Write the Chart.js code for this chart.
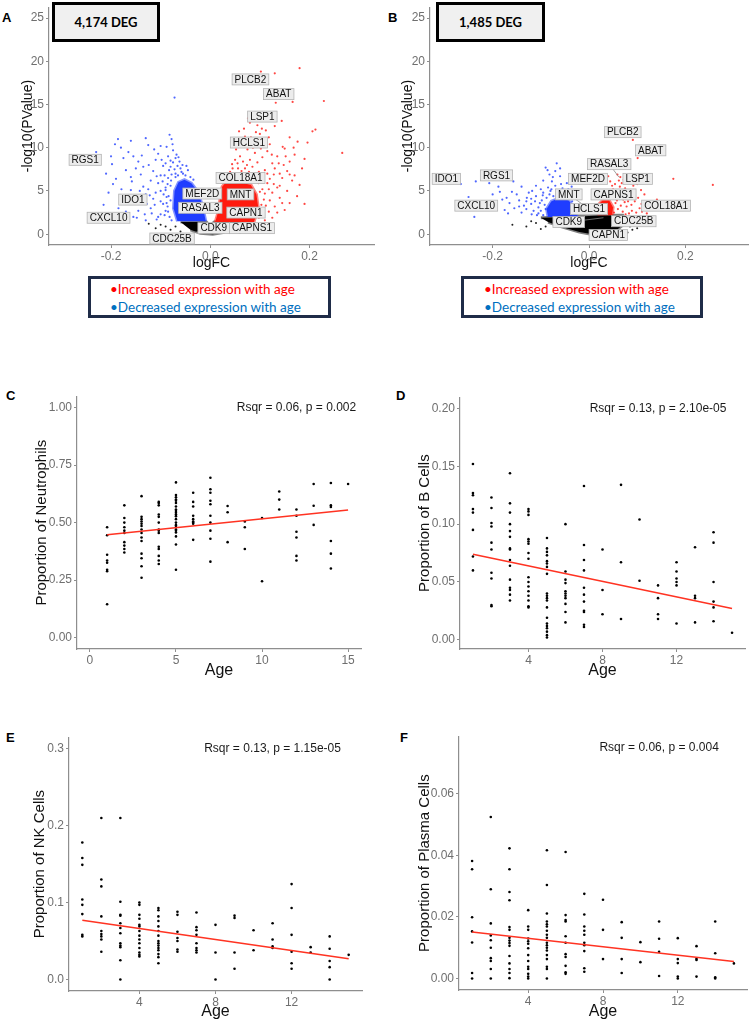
<!DOCTYPE html>
<html>
<head>
<meta charset="utf-8">
<script src="https://cdn.jsdelivr.net/npm/chart.js@4.4.0/dist/chart.umd.min.js"></script>
<style>
  html, body { margin: 0; padding: 0; background: #fff; overflow: hidden; }
  #page { position: relative; width: 750px; height: 1022px; overflow: hidden; font-family: "Liberation Sans", Arial, sans-serif; }
  #page canvas { position: absolute; }
  .tag { position: absolute; font: bold 13px/13px "Liberation Sans", Arial, sans-serif; color: #000; }
  .deg { position: absolute; box-sizing: border-box; border: 3px solid #000; background: #f0f0f0;
         font: bold 13px Lato, "Liberation Sans", sans-serif; color: #000;
         display: flex; align-items: center; justify-content: center; }
  .key { position: absolute; box-sizing: border-box; border: 3px solid #1f2c48; background: #fff;
         font: 13.5px/18px Lato, "Liberation Sans", sans-serif; padding-top: 1px; white-space: nowrap; }
  .key .up { color: #ff0000; }
  .key .down { color: #0070c0; }
</style>
</head>
<body>
<div id="page">
  <div class="tag" style="left:2px;top:11px">A</div>
  <div class="tag" style="left:388px;top:11px">B</div>
  <div class="tag" style="left:6px;top:389px">C</div>
  <div class="tag" style="left:396px;top:389px">D</div>
  <div class="tag" style="left:6px;top:731px">E</div>
  <div class="tag" style="left:400px;top:731px">F</div>

  <div class="deg" style="left:52px;top:2px;width:108px;height:40px">4,174 DEG</div>
  <div class="deg" style="left:436px;top:2px;width:109px;height:40px">1,485 DEG</div>

  <div class="key" style="left:88px;top:276px;width:243px;height:42px;padding-left:19px">
    <div class="up">&bull;Increased expression with age</div>
    <div class="down">&bull;Decreased expression with age</div>
  </div>
  <div class="key" style="left:461px;top:276px;width:242px;height:42px;padding-left:20px">
    <div class="up">&bull;Increased expression with age</div>
    <div class="down">&bull;Decreased expression with age</div>
  </div>
</div>

<script>
/* ---------- volcano A (logFC, -log10 p) ---------- */
var upA = [
  [0.102,18.8],[0.130,18.6],[0.180,19.2],[0.229,15.4],[0.166,15.3],[0.132,15.2],[0.144,13.1],[0.130,12.5],
  [0.076,13.4],[0.088,13.3],[0.080,12.9],[0.095,12.6],[0.104,12.2],[0.206,11.9],[0.212,12.1],[0.176,10.7],
  [0.146,10.1],[0.150,9.9],[0.190,8.7],[0.266,9.4],[0.180,5.7],[0.148,8.0],[0.128,6.9],[0.160,11.2],
  [0.050,7.0],[0.055,8.2],[0.060,9.0],[0.065,10.5],[0.070,11.3],[0.075,9.8],[0.080,8.6],[0.085,7.8],
  [0.090,9.4],[0.095,10.8],[0.100,11.6],[0.105,8.9],[0.110,7.4],[0.115,9.6],[0.120,10.4],[0.125,8.2],
  [0.130,7.6],[0.135,9.0],[0.140,7.0],[0.145,6.5],[0.155,7.3],[0.160,8.4],[0.165,6.2],[0.170,9.2],
  [0.120,6.4],[0.100,6.6],[0.090,6.9],[0.070,7.6],[0.062,6.8],[0.058,11.9],[0.068,12.2],[0.082,11.2],
  [0.092,11.8],[0.098,7.2],[0.108,10.2],[0.112,12.0],[0.118,11.2],[0.124,9.2],[0.045,7.6],[0.052,9.8],
  [0.078,10.6],[0.086,10.0],[0.095,8.3],[0.102,9.9],[0.035,6.8],[0.040,7.2],[0.044,8.1],[0.050,8.6],
  [0.056,7.6],[0.066,8.4],[0.074,8.0],[0.084,7.0],[0.093,6.3],[0.063,7.3],[0.072,6.5],[0.078,7.2],
  [0.058,6.4],[0.048,6.7],[0.042,6.3],[0.105,5.2],[0.110,4.7],[0.115,5.9],[0.120,3.9],[0.125,4.8],
  [0.130,3.2],[0.135,5.4],[0.140,4.2],[0.150,2.8],[0.155,5.0],[0.160,3.6],[0.170,6.8],[0.175,4.4],
  [0.185,7.6],[0.190,3.5],[0.108,2.2],[0.112,3.3],[0.118,2.6],[0.125,1.9],[0.135,2.5],[0.145,3.6],
  [0.105,6.3],[0.115,7.0],[0.140,5.6],[0.160,6.9],[0.108,4.0],[0.103,3.4],[0.110,1.6],[0.118,5.2],
  [0.128,5.8],[0.138,8.2],[0.152,9.0],[0.168,10.0],[0.196,10.6],[0.098,1.9],[0.102,2.6],[0.100,4.9],
  [0.097,5.9],[0.038,6.1],[0.066,6.2],[0.088,6.1],[0.032,6.3]
];
var downA = [
  [-0.072,15.8],[-0.186,11.0],[-0.192,10.4],[-0.230,9.5],[-0.198,8.1],[-0.196,5.8],[-0.130,11.1],[-0.082,11.5],
  [-0.078,11.0],[-0.138,9.1],[-0.148,1.9],[-0.165,9.5],[-0.179,5.2],[-0.158,6.1],[-0.124,8.0],[-0.145,2.7],
  [-0.155,2.0],[-0.128,3.5],[-0.105,2.0],[-0.210,7.0],[-0.170,7.4],[-0.160,6.6],[-0.150,7.6],[-0.140,6.9],
  [-0.135,5.5],[-0.130,4.6],[-0.120,6.2],[-0.115,7.3],[-0.110,8.6],[-0.105,9.3],[-0.100,10.2],[-0.095,7.9],
  [-0.092,6.8],[-0.090,5.4],[-0.088,4.3],[-0.086,3.2],[-0.100,3.8],[-0.110,4.8],[-0.120,3.0],[-0.118,2.4],
  [-0.132,2.3],[-0.140,3.9],[-0.150,4.5],[-0.165,3.6],[-0.175,4.1],[-0.185,3.0],[-0.170,2.6],[-0.160,5.1],
  [-0.190,6.4],[-0.205,4.8],[-0.215,3.4],[-0.085,9.0],[-0.080,8.5],[-0.075,9.7],[-0.070,8.8],[-0.066,7.9],
  [-0.090,8.2],[-0.083,7.4],[-0.078,6.9],[-0.072,7.5],[-0.062,8.4],[-0.058,7.2],[-0.096,6.1],[-0.100,5.0],
  [-0.094,4.6],[-0.105,5.9],[-0.108,6.7],[-0.098,8.6],[-0.113,9.8],[-0.088,10.1],[-0.076,10.4],[-0.068,9.2],
  [-0.125,10.3],[-0.145,8.4],[-0.155,9.0],[-0.175,8.8],[-0.180,10.0],[-0.200,9.0],[-0.160,10.8],[-0.095,3.5],
  [-0.090,2.7],[-0.100,2.3],[-0.112,3.4],[-0.125,5.2],[-0.135,7.8],[-0.142,5.0],[-0.108,1.7],[-0.130,1.6],
  [-0.165,1.8],[-0.085,6.5],[-0.080,7.8],[-0.075,8.3],[-0.070,7.0],[-0.065,6.8],[-0.060,7.6],[-0.055,7.0],
  [-0.050,6.8],[-0.045,7.4],[-0.100,6.8],[-0.082,2.0],[-0.085,2.6],[-0.088,3.6],[-0.084,4.4],[-0.090,5.1],
  [-0.092,2.2],[-0.080,5.6],[-0.086,5.8],[-0.064,8.9],[-0.056,8.0],[-0.048,7.9],[-0.115,4.1],[-0.122,4.5],
  [-0.040,6.6],[-0.034,6.3],[-0.078,1.6],[-0.080,3.9],[-0.079,6.2],[-0.070,6.6]
];
var nsA = [
  [-0.124,1.2],[-0.090,0.9],[-0.100,1.1],[-0.080,0.5],[-0.070,0.9],[0.075,0.9],
  [0.085,1.1],[0.065,0.5],[-0.060,0.3],[0.060,0.2],[0.090,0.6],[-0.110,0.7]
];
// outlines of the solid, over-plotted masses
var upCoreA   = [[0.010,1.4],[0.016,2.6],[0.020,4.2],[0.024,5.5],[0.030,5.9],[0.060,6.0],[0.082,5.7],[0.093,4.6],[0.097,3.0],[0.088,1.4]];
var downCoreA = [[-0.066,1.5],[-0.074,3.0],[-0.072,5.0],[-0.064,6.0],[-0.052,6.3],[-0.038,5.9],[-0.026,5.0],[-0.016,3.4],[-0.009,1.5]];
var nsCoreA   = [[-0.060,1.4],[-0.008,1.4],[0.0,1.0],[0.008,1.4],[0.058,1.4],[0.045,0.7],[0.025,0.2],[0.005,0.0],[-0.020,0.1],[-0.040,0.5]];
// [gene, label x, label y, (point x, point y)]
var genesA = [
  ['PLCB2',0.081,17.9],['ABAT',0.138,16.2],['LSP1',0.105,13.6],['HCLS1',0.078,10.6],['RGS1',-0.252,8.6],
  ['COL18A1',0.061,6.5],['MEF2D',-0.016,4.7],['MNT',0.061,4.6],['IDO1',-0.156,4.0],['RASAL3',-0.020,3.05],
  ['CAPN1',0.072,2.5],['CXCL10',-0.205,1.9],['CDK9',0.007,0.7],['CAPNS1',0.084,0.7],['CDC25B',-0.077,-0.5,-0.020,0.35]
];

/* ---------- volcano B ---------- */
var upB = [
  [0.091,10.9],[0.101,8.8],[0.175,6.4],[0.257,5.7],[0.141,4.0],[0.059,6.9],[0.065,6.6],[0.100,5.8],
  [0.040,6.7],[0.054,5.8],[0.068,5.9],[0.082,5.0],[0.102,4.2],[0.109,3.5],[0.089,2.7],[0.130,3.7],
  [0.075,5.3],[0.085,4.4],[0.095,3.8],[0.078,3.2],[0.070,2.6],[0.060,5.0],[0.050,5.2],[0.045,4.8],
  [0.110,2.6],[0.120,3.1],[0.115,4.6],[0.092,5.6],[0.105,3.0],[0.083,2.4],[0.098,2.5],[0.071,4.0],
  [0.063,4.6],[0.057,4.2],[0.088,3.4],[0.079,4.7],[0.120,2.4],[0.135,2.8],[0.044,6.1],[0.048,5.6],
  [0.062,6.2],[0.072,6.3],[0.083,6.0],[0.064,5.5],[0.053,4.9],[0.093,4.9],[0.108,5.1],[0.125,3.4],
  [0.150,3.3],[0.055,3.6],[0.060,2.9],[0.066,3.3],[0.052,2.5],[0.074,3.7],[0.068,4.3],[0.058,3.9],
  [0.076,2.3],[0.081,3.8],[0.049,4.2],[0.038,4.3],[0.034,4.6]
];
var downB = [
  [-0.266,5.8],[-0.235,6.1],[-0.250,4.3],[-0.238,2.0],[-0.207,5.9],[-0.188,5.5],[-0.171,4.2],[-0.157,6.1],
  [-0.140,5.5],[-0.150,4.6],[-0.140,2.5],[-0.119,2.3],[-0.129,4.2],[-0.112,3.8],[-0.095,4.8],[-0.090,7.7],
  [-0.086,7.4],[-0.067,8.2],[-0.077,6.1],[-0.060,6.7],[-0.046,5.9],[-0.036,5.5],[-0.200,4.6],[-0.195,3.3],
  [-0.180,4.0],[-0.175,2.8],[-0.165,3.6],[-0.160,4.9],[-0.155,3.0],[-0.145,3.9],[-0.135,3.3],[-0.130,2.9],
  [-0.125,4.8],[-0.120,3.5],[-0.115,2.7],[-0.110,4.4],[-0.105,3.1],[-0.100,5.2],[-0.105,2.4],[-0.085,5.4],
  [-0.080,5.0],[-0.070,5.6],[-0.065,5.1],[-0.055,5.3],[-0.050,5.0],[-0.040,4.9],[-0.075,6.6],[-0.070,7.3],
  [-0.082,6.9],[-0.060,7.6],[-0.095,6.2],[-0.110,5.6],[-0.120,4.1],[-0.098,3.9],[-0.108,2.2],[-0.090,2.9],
  [-0.185,4.9],[-0.168,2.4],[-0.145,3.2],[-0.130,3.8],[-0.118,5.0],[-0.095,2.2],[-0.092,3.4],[-0.088,4.2],
  [-0.082,4.6],[-0.074,4.4],[-0.066,4.7],[-0.052,4.5],[-0.045,4.3],[-0.035,3.8],[-0.030,3.2],[-0.026,2.6],
  [-0.100,2.7],[-0.102,3.6],[-0.096,4.5],[-0.078,5.2],[-0.058,5.8],[-0.043,5.2]
];
var nsB = [
  [-0.159,1.1],[-0.130,0.9],[-0.110,1.3],[-0.100,0.6],[-0.090,0.9],[0.085,0.9],
  [0.090,0.5],[0.095,1.1],[0.080,0.2],[-0.120,1.5],[0.100,0.7],[0.082,1.5]
];
var upCoreB   = [[0.018,2.2],[0.019,3.4],[0.028,3.9],[0.042,3.9],[0.050,3.1],[0.048,2.2]];
var downCoreB = [[-0.085,2.0],[-0.088,2.9],[-0.078,3.8],[-0.060,4.2],[-0.042,3.9],[-0.030,3.0],[-0.024,2.0]];
var nsCoreB   = [[-0.100,1.9],[-0.040,2.0],[0.020,2.15],[0.070,2.2],[0.078,1.4],[0.060,0.6],[0.030,0.05],[0.010,-0.05],[-0.020,0.25],[-0.060,0.9],[-0.085,1.4]];
var genesB = [
  ['PLCB2',0.070,11.8],['ABAT',0.128,9.7],['RASAL3',0.042,8.1,0.062,6.6],['IDO1',-0.296,6.4],['RGS1',-0.192,6.8],
  ['MEF2D',-0.002,6.4],['LSP1',0.101,6.4],['MNT',-0.042,4.6,0.008,2.6],['CAPNS1',0.051,4.6],['CXCL10',-0.234,3.3],
  ['HCLS1',0.000,2.9,0.030,2.3],['COL18A1',0.160,3.3,0.115,2.9],['CDK9',-0.042,1.4,0.030,1.9],
  ['CDC25B',0.093,1.5,0.050,1.6],['CAPN1',0.040,-0.1,0.035,0.6]
];

var volXTicks = [-0.2, 0, 0.2];
var volYTicks = [0, 5, 10, 15, 20, 25];

/* ---------- cell proportions by age (one list per age 1..15) ---------- */
var ageCats = [1,2,3,4,5,6,7,8,9,10,11,12,13,14,15];
var neutrophils = [
  [0.48,0.445,0.36,0.335,0.325,0.295,0.288,0.145],
  [0.575,0.52,0.50,0.48,0.465,0.455,0.415,0.40,0.385,0.37],
  [0.615,0.525,0.515,0.505,0.495,0.485,0.47,0.455,0.435,0.42,0.365,0.345,0.31,0.26],
  [0.59,0.585,0.575,0.535,0.525,0.50,0.47,0.465,0.455,0.395,0.385,0.355,0.335,0.32],
  [0.675,0.62,0.61,0.60,0.595,0.585,0.57,0.557,0.55,0.543,0.535,0.528,0.515,0.50,0.49,0.486,0.48,0.47,0.465,0.457,0.44,0.405,0.295],
  [0.63,0.59,0.57,0.53,0.515,0.505,0.50,0.495,0.425],
  [0.695,0.645,0.63,0.595,0.58,0.53,0.50,0.465,0.43,0.33],
  [0.572,0.545,0.415],
  [0.505,0.48,0.385],
  [0.52,0.245],
  [0.635,0.60,0.557],
  [0.557,0.53,0.46,0.435,0.355,0.335],
  [0.668,0.573,0.49],
  [0.672,0.575,0.568,0.42,0.365,0.30],
  [0.668]
];
var bCells = [
  [0.152,0.127,0.125,0.113,0.110,0.095,0.072,0.060],
  [0.123,0.114,0.101,0.098,0.084,0.078,0.058,0.053,0.030,0.029],
  [0.144,0.118,0.110,0.100,0.094,0.089,0.079,0.078,0.069,0.064,0.052,0.045,0.043,0.039,0.034],
  [0.113,0.111,0.108,0.087,0.085,0.083,0.075,0.070,0.054,0.050,0.046,0.042,0.038,0.034,0.029,0.028],
  [0.088,0.079,0.076,0.073,0.068,0.066,0.063,0.057,0.040,0.038,0.036,0.034,0.028,0.019,0.014,0.012,0.010,0.007,0.004,0.002],
  [0.100,0.059,0.052,0.049,0.042,0.040,0.038,0.036,0.031,0.024,0.015],
  [0.133,0.082,0.069,0.060,0.045,0.039,0.033,0.025,0.024,0.013,0.011],
  [0.078,0.043,0.022],
  [0.134,0.067,0.018],
  [0.104,0.051],
  [0.047,0.036,0.022,0.018],
  [0.067,0.059,0.053,0.050,0.047,0.014],
  [0.080,0.038,0.036,0.015],
  [0.093,0.084,0.050,0.033,0.028,0.016],
  [0.006]
];
var nkCells = [
  [0.178,0.158,0.149,0.104,0.097,0.085,0.058,0.056],
  [0.210,0.130,0.121,0.082,0.063,0.059,0.056,0.052,0.036],
  [0.210,0.101,0.084,0.083,0.073,0.067,0.060,0.047,0.044,0.042,0.025,0.0],
  [0.100,0.097,0.084,0.079,0.071,0.069,0.063,0.057,0.052,0.047,0.041,0.035,0.032,0.030],
  [0.093,0.090,0.082,0.076,0.069,0.063,0.057,0.050,0.047,0.044,0.041,0.038,0.033,0.029,0.021],
  [0.088,0.084,0.062,0.054,0.050,0.039,0.036],
  [0.087,0.068,0.064,0.058,0.047,0.041,0.038,0.035],
  [0.071,0.035,0.0],
  [0.083,0.080,0.035,0.014],
  [0.064,0.038],
  [0.073,0.052,0.043,0.041],
  [0.124,0.093,0.058,0.036,0.021,0.014],
  [0.042,0.035],
  [0.056,0.040,0.024,0.016,0.0],
  [0.032]
];
var plasmaCells = [
  [0.0382,0.0355,0.0199,0.0153,0.0117,0.0018,0.0],
  [0.0525,0.0290,0.0179,0.0140,0.0124,0.0100,0.0066,0.0057,0.0031,0.0],
  [0.0423,0.0355,0.0281,0.0254,0.0167,0.0158,0.0132,0.0123,0.0115,0.0106,0.0073,0.0049,0.0031,0.0018,0.0001],
  [0.0222,0.0169,0.0158,0.0130,0.0121,0.0113,0.0098,0.0076,0.0057,0.0038,0.0031,0.0015,0.0006,0.0],
  [0.0417,0.0304,0.0211,0.0185,0.0176,0.0169,0.0155,0.0142,0.0132,0.0116,0.0108,0.0100,0.0091,0.0076,0.0063,0.0038,0.0031,0.0],
  [0.0411,0.0206,0.0190,0.0185,0.0137,0.0116,0.0079,0.0070,0.0041,0.0020,0.0015],
  [0.0275,0.0208,0.0169,0.0155,0.0142,0.0116,0.0108,0.0089,0.0033,0.0022],
  [0.0256,0.0158,0.0063],
  [0.0183,0.0132,0.0063,0.0018],
  [0.0118,0.0053],
  [0.0185,0.0129,0.0087,0.0008],
  [0.0131,0.0063,0.0050,0.0006,0.0],
  [0.0105,0.0064,0.0060,0.0006],
  [0.0185,0.0082,0.0004,0.0],
  [0.0049]
];
// fitted lines, end points
var fitNeutro = [[1,0.447],[15,0.555]];
var fitB      = [[1,0.074],[15,0.027]];
var fitNK     = [[1,0.077],[15,0.027]];
var fitPlasma = [[1,0.0151],[15,0.0055]];

var noteC = ['Rsqr = 0.06, p = 0.002', 12, 1.0];
var noteD = ['Rsqr = 0.13, p = 2.10e-05', 11, 0.20];
var noteE = ['Rsqr = 0.13, p = 1.15e-05', 11, 0.30];
var noteF = ['Rsqr = 0.06, p = 0.004', 11, 0.075];

var ageTicksC = [0, 5, 10, 15];
var ageTicks = [4, 8, 12];
var neutroTicks = [0, 0.25, 0.5, 0.75, 1];
var bTicks = [0, 0.05, 0.1, 0.15, 0.2];
var nkTicks = [0, 0.1, 0.2, 0.3];
var plasmaTicks = [0, 0.02, 0.04, 0.06];

/* ---------- helpers ---------- */
var FONT = '"Liberation Sans", Arial, sans-serif';
var AXIS = '#8e8e8e';

function pts(arr) { return arr.map(function (p) { return { x: p[0], y: p[1] }; }); }
function byAge(cols) {
  var out = [];
  cols.forEach(function (vals, i) { vals.forEach(function (v) { out.push({ x: ageCats[i], y: v }); }); });
  return out;
}

function labelPlugin(genes) {
  return {
    id: 'geneLabels',
    afterDatasetsDraw: function (chart) {
      var ctx = chart.ctx, xs = chart.scales.x, ys = chart.scales.y;
      ctx.save();
      ctx.strokeStyle = '#8a8a8a'; ctx.lineWidth = 0.8;
      genes.forEach(function (g) {
        if (g.length < 5) return;
        ctx.beginPath();
        ctx.moveTo(xs.getPixelForValue(g[1]), ys.getPixelForValue(g[2]));
        ctx.lineTo(xs.getPixelForValue(g[3]), ys.getPixelForValue(g[4]));
        ctx.stroke();
      });
      ctx.font = '10px ' + FONT;
      ctx.textAlign = 'center'; ctx.textBaseline = 'middle';
      genes.forEach(function (g) {
        var x = xs.getPixelForValue(g[1]), y = ys.getPixelForValue(g[2]);
        var w = ctx.measureText(g[0]).width + 5, h = 11;
        ctx.fillStyle = '#ececec'; ctx.fillRect(x - w / 2, y - h / 2, w, h);
        ctx.strokeStyle = '#b4b4b4'; ctx.lineWidth = 0.8; ctx.strokeRect(x - w / 2, y - h / 2, w, h);
        ctx.fillStyle = '#111'; ctx.fillText(g[0], x, y + 0.5);
      });
      ctx.restore();
    }
  };
}

function notePlugin(note) {
  return {
    id: 'note',
    afterDatasetsDraw: function (chart) {
      var ctx = chart.ctx;
      ctx.save();
      ctx.font = '12px ' + FONT; ctx.fillStyle = '#1a1a1a';
      ctx.textAlign = 'center'; ctx.textBaseline = 'middle';
      ctx.fillText(note[0], chart.scales.x.getPixelForValue(note[1]), chart.scales.y.getPixelForValue(note[2]));
      ctx.restore();
    }
  };
}

function fmt(v, dec) { return Number(v).toFixed(dec); }

/* g: plot box in page px + axis setup */
function panel(g, datasets, extra) {
  var ySize = g.ySize, xSize = g.xSize;
  var lhY = ySize * 1.2, lhX = xSize * 1.2;
  var left = Math.floor(g.tx - lhY / 2 - 1);
  var top = g.T - 4;
  var right = g.R + 6;
  var bottom = Math.ceil(g.ty + lhX / 2 + 2);
  var yw = g.L - left, xh = bottom - g.B;

  var cv = document.createElement('canvas');
  cv.width = right - left; cv.height = bottom - top;
  cv.style.left = left + 'px'; cv.style.top = top + 'px';
  cv.style.width = (right - left) + 'px'; cv.style.height = (bottom - top) + 'px';
  document.getElementById('page').appendChild(cv);

  var tickFont = { family: FONT, size: 12 };
  new Chart(cv, {
    type: 'scatter',
    data: { datasets: datasets },
    options: {
      responsive: false, maintainAspectRatio: false, animation: false, events: [],
      layout: { autoPadding: false, padding: { left: 0, top: 4, right: 6, bottom: 0 } },
      plugins: { legend: { display: false }, tooltip: { enabled: false } },
      scales: {
        x: {
          type: 'linear', min: g.xMin, max: g.xMax,
          afterFit: function (s) { s.height = xh; },
          afterBuildTicks: function (s) { s.ticks = g.xTicks.map(function (v) { return { value: v }; }); },
          border: { display: true, color: AXIS, width: 1.2 },
          grid: { drawOnChartArea: false, drawTicks: true, tickLength: 3, tickColor: AXIS },
          ticks: { font: tickFont, color: '#6f6f6f', padding: 1, maxRotation: 0, autoSkip: false,
                   callback: function (v) { return fmt(v, g.xDec); } },
          title: { display: true, text: g.xTitle, color: '#111', font: { family: FONT, size: xSize },
                   padding: { top: 0, bottom: bottom - g.ty - lhX / 2 } }
        },
        y: {
          type: 'linear', min: g.yMin, max: g.yMax,
          afterFit: function (s) { s.width = yw; },
          afterBuildTicks: function (s) { s.ticks = g.yTicks.map(function (v) { return { value: v }; }); },
          border: { display: true, color: AXIS, width: 1.2 },
          grid: { drawOnChartArea: false, drawTicks: true, tickLength: 3, tickColor: AXIS },
          ticks: { font: tickFont, color: '#6f6f6f', padding: 2, autoSkip: false,
                   callback: function (v) { return fmt(v, g.yDec); } },
          title: { display: true, text: g.yTitle, color: '#111', font: { family: FONT, size: ySize },
                   padding: { top: g.tx - left - lhY / 2, bottom: 0 } }
        }
      }
    },
    plugins: extra
  });
}

function dots(arr, color, r) {
  return { data: arr, backgroundColor: color, borderWidth: 0, pointRadius: r, pointHoverRadius: r };
}
function mass(arr, fillCol, edgeCol) {
  return { type: 'line', data: pts(arr), fill: 'shape', backgroundColor: fillCol, borderColor: edgeCol,
           borderWidth: 3, pointRadius: 0, tension: 0 };
}
function fitLine(arr) {
  return { type: 'line', data: pts(arr), borderColor: '#ff3322', borderWidth: 1.6, pointRadius: 0, fill: false };
}

var RED_DOT = 'rgba(255,25,20,0.8)', BLUE_DOT = 'rgba(35,65,255,0.8)';

/* ---------- A ---------- */
panel({ L: 49, T: 2, R: 374, B: 245, tx: 28, ty: 263, ySize: 14, xSize: 14,
        xMin: -0.325, xMax: 0.33, yMin: -1.25, yMax: 26.25,
        xTicks: volXTicks, yTicks: volYTicks, xDec: 1, yDec: 0, xTitle: 'logFC', yTitle: '-log10(PValue)' },
  [dots(pts(upA), RED_DOT, 1.1), dots(pts(downA), BLUE_DOT, 1.1), dots(pts(nsA), '#222', 1.0),
   mass(upCoreA, '#ff1a0e', 'rgba(255,26,14,0.55)'),
   mass(downCoreA, '#1f3dff', 'rgba(31,61,255,0.55)'),
   mass(nsCoreA, '#000', 'rgba(0,0,0,0.5)')],
  [labelPlugin(genesA)]);

/* ---------- B ---------- */
panel({ L: 430, T: 2, R: 748, B: 245, tx: 408, ty: 263, ySize: 14, xSize: 14,
        xMin: -0.33, xMax: 0.33, yMin: -1.25, yMax: 26.25,
        xTicks: volXTicks, yTicks: volYTicks, xDec: 1, yDec: 0, xTitle: 'logFC', yTitle: '-log10(PValue)' },
  [dots(pts(upB), RED_DOT, 1.1), dots(pts(downB), BLUE_DOT, 1.1), dots(pts(nsB), '#222', 1.0),
   mass(upCoreB, '#ff1a0e', 'rgba(255,26,14,0.55)'),
   mass(downCoreB, '#1f3dff', 'rgba(31,61,255,0.55)'),
   mass(nsCoreB, '#000', 'rgba(0,0,0,0.5)')],
  [labelPlugin(genesB)]);

/* ---------- C ---------- */
panel({ L: 77, T: 391, R: 361, B: 649, tx: 41.5, ty: 671, ySize: 15, xSize: 16,
        xMin: -0.75, xMax: 15.75, yMin: -0.05, yMax: 1.05,
        xTicks: ageTicksC, yTicks: neutroTicks, xDec: 0, yDec: 2, xTitle: 'Age', yTitle: 'Proportion of Neutrophils' },
  [fitLine(fitNeutro), dots(byAge(neutrophils), '#000', 1.3)],
  [notePlugin(noteC)]);

/* ---------- D ---------- */
panel({ L: 460, T: 392, R: 745, B: 649, tx: 425, ty: 671, ySize: 15, xSize: 16,
        xMin: 0.3, xMax: 15.7, yMin: -0.008, yMax: 0.2098,
        xTicks: ageTicks, yTicks: bTicks, xDec: 0, yDec: 2, xTitle: 'Age', yTitle: 'Proportion of B Cells' },
  [fitLine(fitB), dots(byAge(bCells), '#000', 1.3)],
  [notePlugin(noteD)]);

/* ---------- E ---------- */
panel({ L: 69, T: 732, R: 362, B: 991, tx: 40, ty: 1012, ySize: 15, xSize: 16,
        xMin: 0.3, xMax: 15.7, yMin: -0.015, yMax: 0.315,
        xTicks: ageTicks, yTicks: nkTicks, xDec: 0, yDec: 1, xTitle: 'Age', yTitle: 'Proportion of NK Cells' },
  [fitLine(fitNK), dots(byAge(nkCells), '#000', 1.3)],
  [notePlugin(noteE)]);

/* ---------- F ---------- */
panel({ L: 459, T: 731, R: 747, B: 990, tx: 425, ty: 1012, ySize: 15, xSize: 16,
        xMin: 0.3, xMax: 15.7, yMin: -0.00375, yMax: 0.07875,
        xTicks: ageTicks, yTicks: plasmaTicks, xDec: 0, yDec: 2, xTitle: 'Age', yTitle: 'Proportion of Plasma Cells' },
  [fitLine(fitPlasma), dots(byAge(plasmaCells), '#000', 1.3)],
  [notePlugin(noteF)]);
</script>
</body>
</html>
